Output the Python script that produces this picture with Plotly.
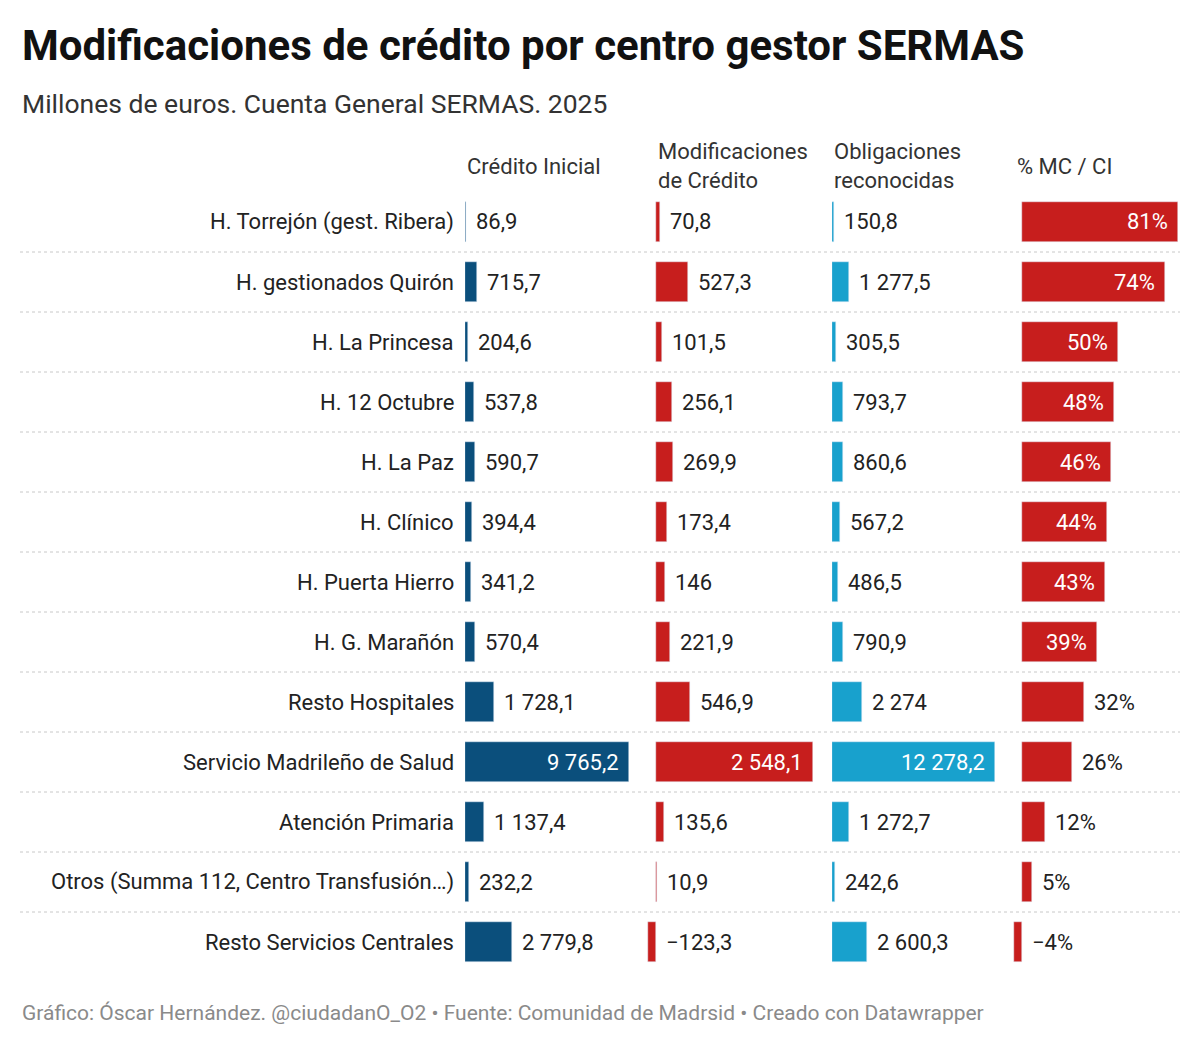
import plotly.graph_objects as go

OFF = 8
W, H = 1200 - OFF, 1045 - OFF
centros = ["H. Torrejón (gest. Ribera)", "H. gestionados Quirón", "H. La Princesa", "H. 12 Octubre",
           "H. La Paz", "H. Clínico", "H. Puerta Hierro", "H. G. Marañón", "Resto Hospitales",
           "Servicio Madrileño de Salud", "Atención Primaria", "Otros (Summa 112, Centro Transfusión...)",
           "Resto Servicios Centrales"]
credito_inicial = [86.9, 715.7, 204.6, 537.8, 590.7, 394.4, 341.2, 570.4, 1728.1, 9765.2, 1137.4, 232.2, 2779.8]
modificaciones = [70.8, 527.3, 101.5, 256.1, 269.9, 173.4, 146, 221.9, 546.9, 2548.1, 135.6, 10.9, -123.3]
obligaciones = [150.8, 1277.5, 305.5, 793.7, 860.6, 567.2, 486.5, 790.9, 2274, 12278.2, 1272.7, 242.6, 2600.3]
pct_mc_ci = [81, 74, 50, 48, 46, 44, 43, 39, 32, 26, 12, 5, -4]
headers = ["Crédito Inicial", "Modificaciones<br>de Crédito", "Obligaciones<br>reconocidas", "% MC / CI"]

def fmt(v):
    s = f"{abs(v):,.1f}".replace(",", " ").replace(".", ",")
    if s.endswith(",0"):
        s = s[:-2]
    return ("−" if v < 0 else "") + s

def fpct(v):
    return ("−" if v < 0 else "") + f"{abs(v)}%"

px = lambda x: (x - OFF) / W
py = lambda y: 1 - (y - OFF) / H
rows = list(range(len(centros)))
FS = 22

cols = [
    (credito_inicial, "#0b4f7c", 465, 465, 629, [fmt(v) for v in credito_inicial], lambda v: v > 5000),
    (modificaciones, "#c71e1d", 640, 656, 813, [fmt(v) for v in modificaciones], lambda v: v > 2000),
    (obligaciones, "#18a1cd", 832, 832, 995, [fmt(v) for v in obligaciones], lambda v: v > 10000),
    (pct_mc_ci, "#c71e1d", 1005, 1022, 1178, [fpct(v) for v in pct_mc_ci], lambda v: v >= 36),
]

fig = go.Figure()
ann = []
layout = {}
for i, (vals, color, d0, z, d1, labels, inside) in enumerate(cols):
    ax = "" if i == 0 else str(i + 1)
    vmax = max(vals)
    per_px = vmax / (d1 - z)
    rng = [-(z - d0) * per_px, vmax]
    fig.add_trace(go.Bar(x=vals, y=rows, orientation="h", marker_color=color, width=0.66,
                         xaxis="x" + ax, yaxis="y", hoverinfo="skip", showlegend=False))
    layout["xaxis" + ax] = dict(domain=[px(d0), px(d1)], range=rng, visible=False, fixedrange=True)
    for r, (v, t) in enumerate(zip(vals, labels)):
        if inside(v):
            ann.append(dict(x=v, y=r, xref="x" + ax, yref="y", text=t, showarrow=False, xanchor="right",
                            xshift=-8, font=dict(color="white", size=FS)))
        else:
            ann.append(dict(x=max(v, 0), y=r, xref="x" + ax, yref="y", text=t, showarrow=False,
                            xanchor="left", xshift=8, font=dict(color="#222", size=FS)))
    ann.append(dict(x=px(z if i != 3 else 1015), y=py(166), xref="paper", yref="paper", text=headers[i],
                    showarrow=False, xanchor="left", yanchor="middle", align="left",
                    font=dict(size=FS, color="#333")))

for r, c in enumerate(centros):
    ann.append(dict(x=px(456), y=r, xref="paper", yref="y", text=c.replace("...", "…"), showarrow=False,
                    xanchor="right", font=dict(size=FS, color="#222")))

shapes = [dict(type="line", xref="paper", yref="y", x0=px(20), x1=px(1180), y0=r + 0.5, y1=r + 0.5,
               line=dict(color="#c8c8c8", width=1, dash="dot")) for r in rows[:-1]]

ann += [
    dict(x=px(20), y=py(45), xref="paper", yref="paper", text="<b>Modificaciones de crédito por centro gestor SERMAS</b>",
         showarrow=False, xanchor="left", yanchor="middle", font=dict(size=42, color="#111")),
    dict(x=px(20), y=py(103), xref="paper", yref="paper", text="Millones de euros. Cuenta General SERMAS. 2025",
         showarrow=False, xanchor="left", yanchor="middle", font=dict(size=26.5, color="#333")),
    dict(x=px(20), y=py(1013), xref="paper", yref="paper",
         text="Gráfico: Óscar Hernández. @ciudadanO_O2 • Fuente: Comunidad de Madrsid • Creado con Datawrapper",
         showarrow=False, xanchor="left", yanchor="middle", font=dict(size=21, color="#8a8a8a")),
]

fig.update_layout(
    width=W, height=H, autosize=False, margin=dict(l=0, r=0, t=0, b=0),
    paper_bgcolor="white", plot_bgcolor="white", font=dict(family="Roboto"),
    yaxis=dict(domain=[py(972), py(192)], range=[12.5, -0.5], visible=False, fixedrange=True),
    annotations=ann, shapes=shapes, bargap=0, **layout,
)
fig.write_html("out.html", config={"displayModeBar": False})
